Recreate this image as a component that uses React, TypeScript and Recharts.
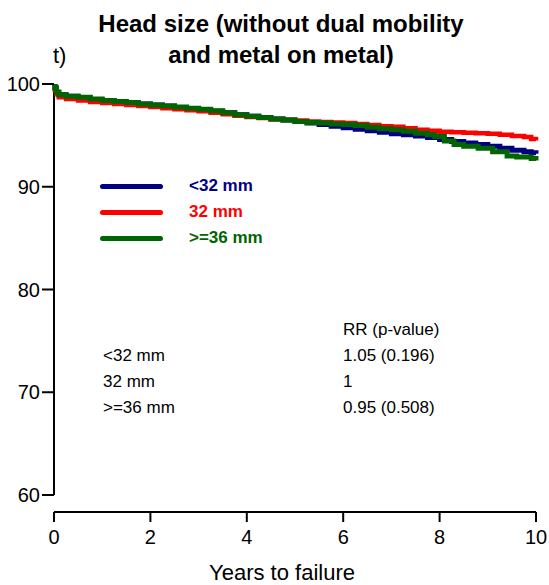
import React from 'react';
import { LineChart, Line, XAxis, YAxis, Legend, ReferenceLine } from 'recharts';

// survival curves (years, % survival)
const smallYears = [0, 0.02, 0.05, 0.1, 0.25, 0.5, 0.75, 1, 1.25, 1.5, 1.75, 2, 2.25, 2.5, 2.75, 3, 3.25, 3.5, 3.75, 4, 4.25, 4.5, 4.75, 5, 5.25, 5.5, 5.75, 6, 6.25, 6.5, 6.75, 7, 7.25, 7.5, 7.75, 8, 8.25, 8.5, 8.75, 9, 9.25, 9.5, 9.75, 9.9, 10];
const smallSurvival = [100, 99.6, 99.2, 98.95, 98.8, 98.65, 98.5, 98.4, 98.25, 98.15, 98.05, 97.95, 97.85, 97.7, 97.6, 97.5, 97.35, 97.2, 97.0, 96.85, 96.75, 96.6, 96.5, 96.35, 96.2, 96.05, 95.9, 95.75, 95.6, 95.45, 95.3, 95.15, 95.05, 94.95, 94.8, 94.6, 94.4, 94.25, 94.1, 93.95, 93.75, 93.55, 93.4, 93.3, 93.2];

const midYears = [0, 0.02, 0.05, 0.1, 0.25, 0.5, 0.75, 1, 1.25, 1.5, 1.75, 2, 2.25, 2.5, 2.75, 3, 3.25, 3.5, 3.75, 4, 4.25, 4.5, 4.75, 5, 5.25, 5.5, 5.75, 6, 6.25, 6.5, 6.75, 7, 7.25, 7.5, 7.75, 8, 8.25, 8.5, 8.75, 9, 9.25, 9.5, 9.75, 9.9, 10];
const midSurvival = [100, 99.4, 99.0, 98.7, 98.55, 98.4, 98.25, 98.15, 98.05, 97.95, 97.85, 97.75, 97.65, 97.55, 97.45, 97.35, 97.2, 97.05, 96.9, 96.8, 96.7, 96.6, 96.5, 96.45, 96.35, 96.3, 96.25, 96.2, 96.1, 96.0, 95.9, 95.85, 95.7, 95.55, 95.45, 95.35, 95.3, 95.25, 95.2, 95.15, 95.05, 94.95, 94.85, 94.65, 94.5];

const largeYears = [0, 0.02, 0.05, 0.1, 0.25, 0.5, 0.75, 1, 1.25, 1.5, 1.75, 2, 2.25, 2.5, 2.75, 3, 3.25, 3.5, 3.75, 4, 4.25, 4.5, 4.75, 5, 5.25, 5.5, 5.75, 6, 6.25, 6.5, 6.75, 7, 7.25, 7.5, 7.75, 7.9, 8.1, 8.3, 8.5, 8.8, 9.1, 9.4, 9.6, 9.9, 10];
const largeSurvival = [100, 99.6, 99.2, 98.95, 98.8, 98.7, 98.55, 98.4, 98.3, 98.2, 98.05, 97.95, 97.85, 97.75, 97.65, 97.55, 97.4, 97.2, 97.0, 96.85, 96.75, 96.6, 96.5, 96.35, 96.25, 96.2, 96.1, 96.05, 95.95, 95.8, 95.65, 95.55, 95.4, 95.2, 95.05, 94.9, 94.45, 94.1, 93.95, 93.75, 93.4, 93.0, 92.9, 92.75, 92.55];

const seriesNames = ['<32 mm', '32 mm', '>=36 mm'];
const seriesColors = ['#000080', '#ff0000', '#006400'];

const xTicks = [0, 2, 4, 6, 8, 10];
const yTicks = [60, 70, 80, 90, 100];

const tableHeader = 'RR (p-value)';
const tableRows = ['<32 mm', '32 mm', '>=36 mm'];
const tableValues = ['1.05 (0.196)', '1', '0.95 (0.508)'];

const toPoints = (xs: number[], ys: number[]) => xs.map((x, i) => ({ x, y: ys[i] }));

const series = [
  toPoints(smallYears, smallSurvival),
  toPoints(midYears, midSurvival),
  toPoints(largeYears, largeSurvival),
];
const widths = [5, 4.5, 5];

const font = 'Arial, "Liberation Sans", sans-serif';

function LegendBox() {
  return (
    <div style={{ fontFamily: font }}>
      {seriesNames.map((name, i) => (
        <div key={name} style={{ display: 'flex', alignItems: 'center', height: 26 }}>
          <div style={{ width: 63, height: 5, borderRadius: 3, background: seriesColors[i] }} />
          <span style={{ marginLeft: 26, color: seriesColors[i], fontWeight: 'bold', fontSize: 17 }}>{name}</span>
        </div>
      ))}
    </div>
  );
}

export default function App() {
  return (
    <div style={{ position: 'absolute', left: 0, top: 0, width: 549, height: 585, background: '#fff' }}>
      <LineChart width={549} height={585} margin={{ top: 84, right: 13, left: 0, bottom: 0 }}>
        <XAxis
          type="number"
          dataKey="x"
          domain={[0, 10]}
          ticks={xTicks}
          height={73}
          axisLine={{ stroke: '#000', strokeWidth: 2 }}
          tickLine={{ stroke: '#000', strokeWidth: 2 }}
          tickSize={10}
          tickMargin={8}
          tick={{ fill: '#000', fontSize: 20, fontFamily: font }}
        />
        <YAxis
          type="number"
          dataKey="y"
          domain={[58.345, 100]}
          allowDataOverflow
          ticks={yTicks}
          width={54}
          axisLine={false}
          tickLine={{ stroke: '#000', strokeWidth: 2 }}
          tickSize={12}
          tickMargin={2}
          tick={{ fill: '#000', fontSize: 20, fontFamily: font }}
        />
        <ReferenceLine
          segment={[{ x: 0, y: 60 }, { x: 0, y: 100 }]}
          stroke="#000"
          strokeWidth={2}
        />
        {series.map((pts, i) => (
          <Line
            key={seriesNames[i]}
            data={pts}
            dataKey="y"
            name={seriesNames[i]}
            type="stepAfter"
            stroke={seriesColors[i]}
            strokeWidth={widths[i]}
            dot={false}
            activeDot={false}
            isAnimationActive={false}
          />
        ))}
        <Legend
          layout="horizontal"
          verticalAlign="middle"
          align="center"
          wrapperStyle={{ top: 173, left: 100, width: 200, height: 78 }}
          content={() => <LegendBox />}
        />
      </LineChart>
      <svg
        width={549}
        height={585}
        style={{ position: 'absolute', left: 0, top: 0, pointerEvents: 'none' }}
        fontFamily={font}
      >
        <text x={281} y={32} textAnchor="middle" fontSize={24} fontWeight="bold">
          Head size (without dual mobility
        </text>
        <text x={281} y={63} textAnchor="middle" fontSize={24} fontWeight="bold">
          and metal on metal)
        </text>
        <text x={53} y={63} fontSize={22}>t)</text>
        <text x={282} y={580} textAnchor="middle" fontSize={22}>Years to failure</text>
        <text x={343} y={335} fontSize={17}>{tableHeader}</text>
        {tableRows.map((r, i) => (
          <g key={r}>
            <text x={103} y={361 + i * 26} fontSize={17}>{r}</text>
            <text x={343} y={361 + i * 26} fontSize={17}>{tableValues[i]}</text>
          </g>
        ))}
      </svg>
    </div>
  );
}
